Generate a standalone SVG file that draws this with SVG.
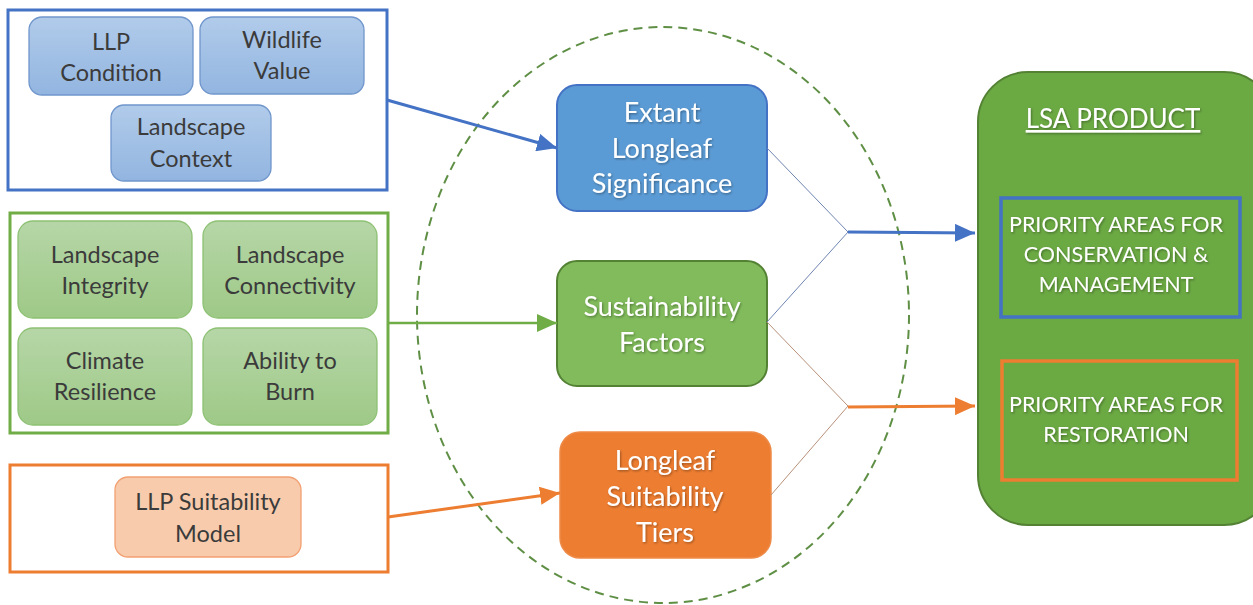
<svg xmlns="http://www.w3.org/2000/svg" width="1253" height="605" viewBox="0 0 1253 605">
  <style>
    .frame { fill: #ffffff; stroke-width: 3; }
    .small { stroke-width: 1.3; }
    .lbl { font-family: Lato, "Open Sans", "Liberation Sans", sans-serif; font-size: 23.5px; fill: #3b3b3b; text-anchor: middle; }
    .mid { font-family: Lato, "Open Sans", "Liberation Sans", sans-serif; font-size: 27px; fill: #ffffff; text-anchor: middle; filter: url(#shadow); }
    .out { font-family: Lato, "Open Sans", "Liberation Sans", sans-serif; font-size: 21.5px; fill: #ffffff; text-anchor: middle; filter: url(#shadow); }
  </style>
  <defs>
    <linearGradient id="gBlue" x1="0" y1="0" x2="0" y2="1">
      <stop offset="0" stop-color="#b1cbea"/>
      <stop offset="1" stop-color="#92b5e0"/>
    </linearGradient>
    <linearGradient id="gGreen" x1="0" y1="0" x2="0" y2="1">
      <stop offset="0" stop-color="#b6d6a7"/>
      <stop offset="1" stop-color="#9ec987"/>
    </linearGradient>
    <filter id="shadow" x="-10%" y="-20%" width="120%" height="140%">
      <feDropShadow dx="1" dy="1.2" stdDeviation="0.8" flood-color="#000000" flood-opacity="0.35"/>
    </filter>
    <marker id="headBlue" markerUnits="userSpaceOnUse" markerWidth="22" markerHeight="18" refX="20" refY="9" orient="auto">
      <path d="M0,0 L20,9 L0,18 Z" fill="#4472c4"/>
    </marker>
    <marker id="headGreen" markerUnits="userSpaceOnUse" markerWidth="22" markerHeight="18" refX="20" refY="9" orient="auto">
      <path d="M0,0 L20,9 L0,18 Z" fill="#70ad47"/>
    </marker>
    <marker id="headOrange" markerUnits="userSpaceOnUse" markerWidth="22" markerHeight="18" refX="20" refY="9" orient="auto">
      <path d="M0,0 L20,9 L0,18 Z" fill="#ed7d31"/>
    </marker>
  </defs>

  <rect width="1253" height="605" fill="#ffffff"/>

  <!-- dashed ellipse grouping the three intermediate layers -->
  <ellipse cx="663" cy="315" rx="246" ry="288" fill="none" stroke="#5f8f45" stroke-width="2" stroke-dasharray="9 6"/>

  <!-- input group: extant longleaf -->
  <g id="group-extant-inputs">
    <rect class="frame" x="8" y="10" width="379" height="180" stroke="#4472c4"/>
    <g id="llp-condition">
      <rect class="small" x="29" y="17" width="164" height="78" rx="13" fill="url(#gBlue)" stroke="#7096cc"/>
      <text class="lbl" x="111" y="50">LLP</text>
      <text class="lbl" x="111" y="81">Condition</text>
    </g>
    <g id="wildlife-value">
      <rect class="small" x="200" y="17" width="164" height="77" rx="13" fill="url(#gBlue)" stroke="#7096cc"/>
      <text class="lbl" x="282" y="48">Wildlife</text>
      <text class="lbl" x="282" y="79">Value</text>
    </g>
    <g id="landscape-context">
      <rect class="small" x="111" y="105" width="160" height="76" rx="13" fill="url(#gBlue)" stroke="#7096cc"/>
      <text class="lbl" x="191" y="135">Landscape</text>
      <text class="lbl" x="191" y="167">Context</text>
    </g>
  </g>

  <!-- input group: sustainability -->
  <g id="group-sustainability-inputs">
    <rect class="frame" x="10" y="213" width="378" height="220" stroke="#70ad47"/>
    <g id="landscape-integrity">
      <rect class="small" x="18" y="221" width="174" height="97" rx="15" fill="url(#gGreen)" stroke="#8dc173"/>
      <text class="lbl" x="105" y="263">Landscape</text>
      <text class="lbl" x="105" y="294">Integrity</text>
    </g>
    <g id="landscape-connectivity">
      <rect class="small" x="203" y="221" width="174" height="97" rx="15" fill="url(#gGreen)" stroke="#8dc173"/>
      <text class="lbl" x="290" y="263">Landscape</text>
      <text class="lbl" x="290" y="294">Connectivity</text>
    </g>
    <g id="climate-resilience">
      <rect class="small" x="18" y="328" width="174" height="97" rx="15" fill="url(#gGreen)" stroke="#8dc173"/>
      <text class="lbl" x="105" y="369">Climate</text>
      <text class="lbl" x="105" y="400">Resilience</text>
    </g>
    <g id="ability-to-burn">
      <rect class="small" x="203" y="328" width="174" height="97" rx="15" fill="url(#gGreen)" stroke="#8dc173"/>
      <text class="lbl" x="290" y="369">Ability to</text>
      <text class="lbl" x="290" y="400">Burn</text>
    </g>
  </g>

  <!-- input group: suitability -->
  <g id="group-suitability-inputs">
    <rect class="frame" x="10" y="465" width="378" height="107" stroke="#ed7d31"/>
    <g id="llp-suitability-model">
      <rect class="small" x="115" y="477" width="186" height="80" rx="13" fill="#f8cbad" stroke="#f2a072"/>
      <text class="lbl" x="208" y="510">LLP Suitability</text>
      <text class="lbl" x="208" y="542">Model</text>
    </g>
  </g>

  <!-- intermediate layers -->
  <g id="extant-longleaf-significance">
    <rect x="557" y="85" width="210" height="126" rx="20" fill="#5b9bd5" stroke="#4472c4" stroke-width="2"/>
    <text class="mid" x="662" y="122">Extant</text>
    <text class="mid" x="662" y="158">Longleaf</text>
    <text class="mid" x="662" y="193">Significance</text>
  </g>
  <g id="sustainability-factors">
    <rect x="557" y="261" width="210" height="125" rx="20" fill="#81bb5b" stroke="#548235" stroke-width="2"/>
    <text class="mid" x="662" y="316">Sustainability</text>
    <text class="mid" x="662" y="352">Factors</text>
  </g>
  <g id="longleaf-suitability-tiers">
    <rect x="560" y="432" width="211" height="126" rx="20" fill="#ed7d31" stroke="#ee8a48" stroke-width="1.5"/>
    <text class="mid" x="665" y="470">Longleaf</text>
    <text class="mid" x="665" y="506">Suitability</text>
    <text class="mid" x="665" y="542">Tiers</text>
  </g>

  <!-- output product -->
  <g id="lsa-product">
    <rect x="978" y="72" width="296" height="453" rx="50" fill="#6ba943" stroke="#548235" stroke-width="2"/>
    <text x="1113" y="128" font-family="Lato, 'Open Sans', 'Liberation Sans', sans-serif" font-size="26" fill="#ffffff" text-anchor="middle" text-decoration="underline" filter="url(#shadow)">LSA PRODUCT</text>
    <g id="priority-conservation">
      <rect x="1001" y="198" width="239" height="119" fill="none" stroke="#4472c4" stroke-width="3.5"/>
      <text class="out" x="1116" y="232">PRIORITY AREAS FOR</text>
      <text class="out" x="1116" y="262">CONSERVATION &amp;</text>
      <text class="out" x="1116" y="292">MANAGEMENT</text>
    </g>
    <g id="priority-restoration">
      <rect x="1002" y="361" width="235" height="119" fill="none" stroke="#ed7d31" stroke-width="3.5"/>
      <text class="out" x="1116" y="412">PRIORITY AREAS FOR</text>
      <text class="out" x="1116" y="442">RESTORATION</text>
    </g>
  </g>

  <!-- connectors -->
  <g id="connectors" fill="none">
    <line x1="387" y1="100" x2="557" y2="148" stroke="#4472c4" stroke-width="3" marker-end="url(#headBlue)"/>
    <line x1="388" y1="323" x2="557" y2="323" stroke="#70ad47" stroke-width="2.5" marker-end="url(#headGreen)"/>
    <line x1="388" y1="517" x2="560" y2="493" stroke="#ed7d31" stroke-width="3" marker-end="url(#headOrange)"/>
    <polyline points="767,148 848,232 767,322" stroke="#6f84b2" stroke-width="1"/>
    <polyline points="767,322 848,406 771,495" stroke="#b8917a" stroke-width="1"/>
    <line x1="848" y1="232" x2="975" y2="233" stroke="#4472c4" stroke-width="3" marker-end="url(#headBlue)"/>
    <line x1="848" y1="407" x2="975" y2="406" stroke="#ed7d31" stroke-width="3" marker-end="url(#headOrange)"/>
  </g>
</svg>
